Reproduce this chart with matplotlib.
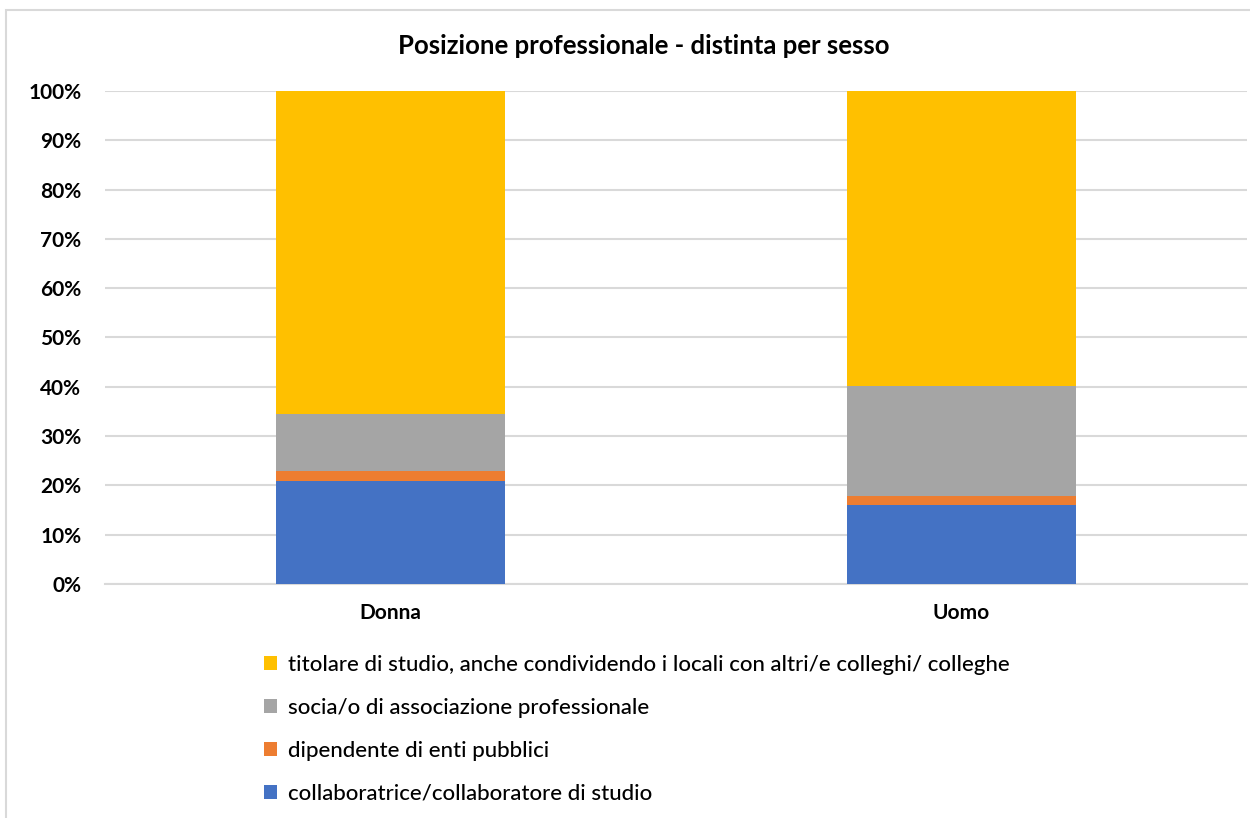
import matplotlib.pyplot as plt
from matplotlib.patches import Rectangle
from matplotlib.ticker import PercentFormatter

categories = ["Donna", "Uomo"]
series = [
    "collaboratrice/collaboratore di studio",
    "dipendente di enti pubblici",
    "socia/o di associazione professionale",
    "titolare di studio, anche condividendo i locali con altri/e colleghi/ colleghe",
]
collaboratore = [20.8, 16.1]
dipendente = [2.1, 1.7]
socio = [11.5, 22.4]
titolare = [65.6, 59.8]
values = [collaboratore, dipendente, socio, titolare]
colors = ["#4472C4", "#ED7D31", "#A5A5A5", "#FFC000"]

plt.rcParams['font.family'] = ['Lato', 'DejaVu Sans']

fig = plt.figure(figsize=(12.5, 8.18), dpi=100)
fig.patches.append(Rectangle((6/1250, -0.01), 1.1, 1 - 10/818 + 0.01, transform=fig.transFigure,
                             fill=False, edgecolor="#d9d9d9", linewidth=1.5))
ax = fig.add_axes([105/1250, 1 - 584/818, 1142/1250, 493/818])

bottom = [0, 0]
handles = []
for name, vals, c in zip(series, values, colors):
    b = ax.bar(categories, vals, width=0.4, bottom=bottom, color=c, label=name, zorder=3)
    handles.append(b)
    bottom = [x + y for x, y in zip(bottom, vals)]

ax.set_xlim(-0.5, 1.5)
ax.set_ylim(0, 100)
ax.set_yticks(range(0, 101, 10))
ax.yaxis.set_major_formatter(PercentFormatter(decimals=0))
ax.grid(axis='y', color="#d9d9d9", linewidth=1.5, zorder=0)
for s in ['top', 'right', 'left']:
    ax.spines[s].set_visible(False)
ax.spines['bottom'].set_color("#d9d9d9")
ax.spines['bottom'].set_linewidth(1.5)
ax.tick_params(length=0, labelsize=15, colors="#000000")
ax.tick_params(axis='y', pad=17)
ax.tick_params(axis='x', pad=21)
for t in ax.get_xticklabels() + ax.get_yticklabels():
    t.set_fontweight('bold')
for t in ax.get_xticklabels():
    t.set_va('center')

fig.text(0.515, 1 - 46/818, "Posizione professionale - distinta per sesso", ha='center', va='center',
         fontsize=18.5, fontweight='bold')

leg = fig.legend(handles[::-1], series[::-1], loc='upper left', bbox_to_anchor=(255/1250, 1 - 646/818),
                 frameon=False, fontsize=16, handlelength=0.6, handleheight=0.6,
                 handletextpad=0.5, labelspacing=1.03, borderaxespad=0)
for t in leg.get_texts():
    t.set_fontweight('medium')

fig.savefig("out.png", dpi=100)
